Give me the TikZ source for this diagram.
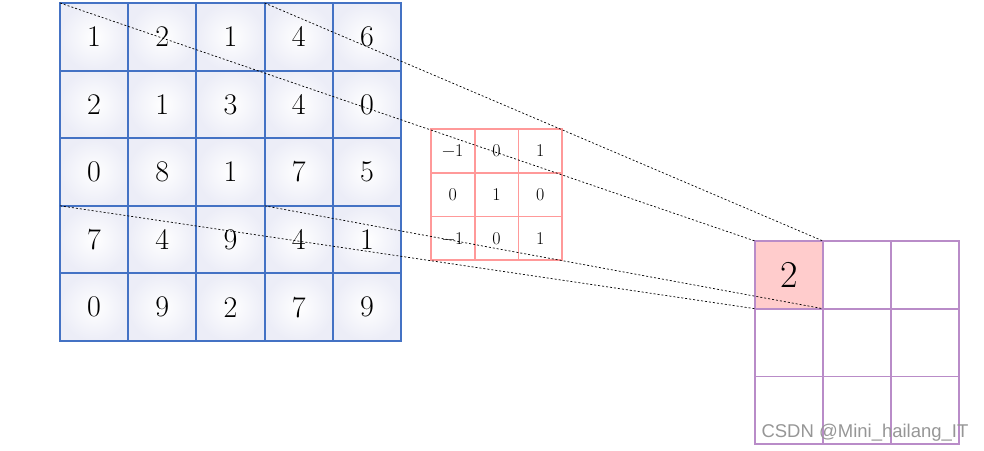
\documentclass[tikz,border=0pt]{standalone}
\usepackage{fontspec}
\newfontfamily\wmfont{Liberation Sans}
\definecolor{inblue}{RGB}{68,114,196}
\definecolor{inshade}{RGB}{236,237,247}
\definecolor{kpink}{RGB}{255,153,153}
\definecolor{opurple}{RGB}{185,140,200}
\definecolor{ofill}{RGB}{255,204,204}
\definecolor{wmgray}{RGB}{150,150,150}
\begin{document}
\begin{tikzpicture}[x=1pt,y=-1pt,
  incell/.style={draw=inblue, line width=2pt, minimum width=68.2pt, minimum height=67.6pt,
    inner sep=0pt, outer sep=0pt, anchor=north west, shading=radial,
    inner color=white, outer color=inshade, font=\fontsize{30}{30}\selectfont},
  kcell/.style={draw=kpink, line width=1.8pt, minimum width=43.7pt, minimum height=43.7pt,
    inner sep=0pt, outer sep=0pt, anchor=north west, font=\fontsize{18}{18}\selectfont},
  ocell/.style={draw=opurple, line width=1.8pt, minimum width=68pt, minimum height=67.7pt,
    inner sep=0pt, outer sep=0pt, anchor=north west, font=\fontsize{38}{38}\selectfont},
  proj/.style={dash pattern=on 2pt off 2pt, line width=0.7pt, black}]
\useasboundingbox (0,0) rectangle (984,450);
% input grid
\foreach \r/\row in {0/{1,2,1,4,6},1/{2,1,3,4,0},2/{0,8,1,7,5},3/{7,4,9,4,1},4/{0,9,2,7,9}}{
  \foreach \v [count=\c from 0] in \row {
    \node[incell] (L\r\c) at ({60+68.2*\c},{3+67.6*\r}) {\v};
  }
}
% kernel
\foreach \r/\row in {0/{−1,0,1},1/{0,1,0},2/{−1,0,1}}{
  \foreach \v [count=\c from 0] in \row {
    \node[kcell] (K\r\c) at ({431+43.7*\c},{129+43.7*\r}) {\v};
  }
}
% output grid
\foreach \r in {0,1,2}{
  \foreach \c in {0,1,2}{
    \node[ocell] (O\r\c) at ({755+68*\c},{241+67.7*\r}) {};
  }
}
\node[ocell, fill=ofill] (O00) at (755,241) {2};
% projection lines
\draw[proj] (L00.north west) -- (O00.north west);
\draw[proj] (L02.north east) -- (O00.north east);
\draw[proj] (L20.south west) -- (O00.south west);
\draw[proj] (L22.south east) -- (O00.south east);
% watermark
\node[font=\wmfont\fontsize{18.5}{18.5}\selectfont, text=wmgray, anchor=base, inner sep=0pt] (wm) at (865,437) {CSDN @Mini\_hailang\_IT};
\end{tikzpicture}
\end{document}
